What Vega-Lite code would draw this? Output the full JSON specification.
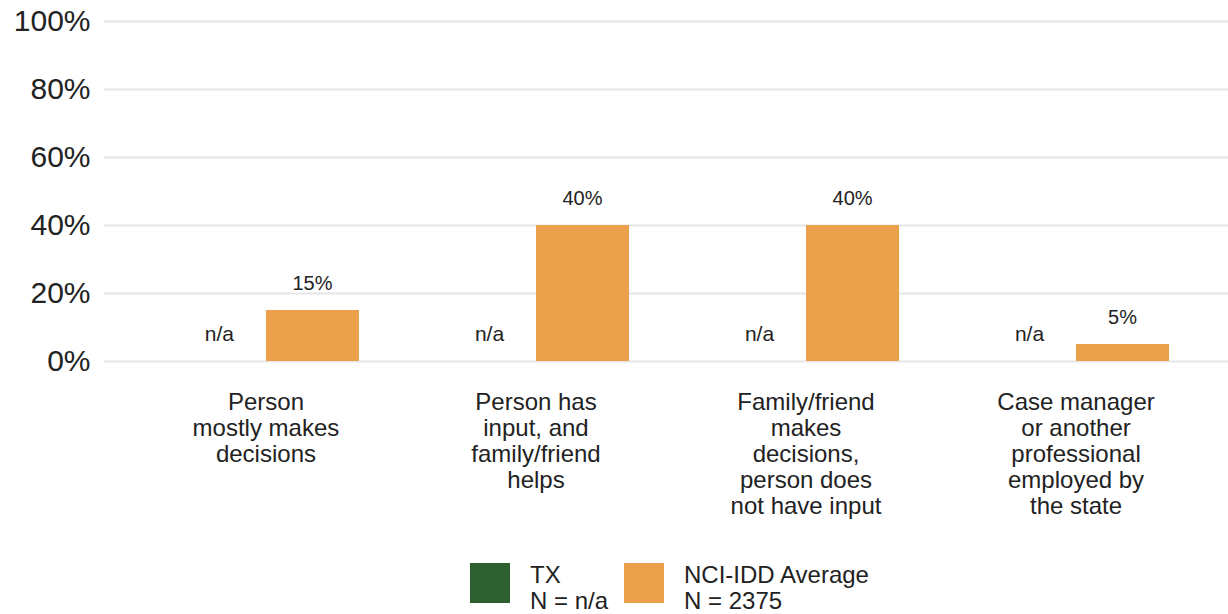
{
  "$schema": "https://vega.github.io/schema/vega-lite/v6.json",
  "width": 1125,
  "height": 340,
  "autosize": "none",
  "padding": {"left": 103, "top": 21, "right": 0, "bottom": 253},
  "background": "white",
  "config": {"font": "Liberation Sans", "view": {"stroke": null}},
  "data": {
    "values": [
      {"category": "Person\nmostly makes\ndecisions", "series": "TX\nN = n/a", "value": null},
      {"category": "Person\nmostly makes\ndecisions", "series": "NCI-IDD Average\nN = 2375", "value": 0.15},
      {"category": "Person has\ninput, and\nfamily/friend\nhelps", "series": "TX\nN = n/a", "value": null},
      {"category": "Person has\ninput, and\nfamily/friend\nhelps", "series": "NCI-IDD Average\nN = 2375", "value": 0.40},
      {"category": "Family/friend\nmakes\ndecisions,\nperson does\nnot have input", "series": "TX\nN = n/a", "value": null},
      {"category": "Family/friend\nmakes\ndecisions,\nperson does\nnot have input", "series": "NCI-IDD Average\nN = 2375", "value": 0.40},
      {"category": "Case manager\nor another\nprofessional\nemployed by\nthe state", "series": "TX\nN = n/a", "value": null},
      {"category": "Case manager\nor another\nprofessional\nemployed by\nthe state", "series": "NCI-IDD Average\nN = 2375", "value": 0.05}
    ]
  },
  "encoding": {
    "x": {
      "field": "category",
      "type": "nominal",
      "sort": null,
      "scale": {"range": [0, 1136], "paddingInner": 0.311, "paddingOuter": 0.259},
      "axis": {
        "title": null,
        "labelExpr": "split(datum.label, '\\n')",
        "labelFontSize": 24,
        "labelLineHeight": 26,
        "labelAngle": 0,
        "labelPadding": 29,
        "labelBaseline": "top",
        "ticks": false,
        "domain": false,
        "labelColor": "#222222",
        "labelLimit": 0
      }
    },
    "xOffset": {
      "field": "series",
      "type": "nominal",
      "scale": {"domain": ["TX\nN = n/a", "NCI-IDD Average\nN = 2375"]}
    }
  },
  "layer": [
    {
      "mark": {"type": "bar"},
      "encoding": {
        "y": {
          "field": "value",
          "type": "quantitative",
          "scale": {"domain": [0, 1], "nice": false},
          "axis": {
            "title": null,
            "format": ".0%",
            "values": [0, 0.2, 0.4, 0.6, 0.8, 1],
            "domain": false,
            "ticks": false,
            "labelFontSize": 30,
            "labelPadding": 13,
            "labelColor": "#222222",
            "gridColor": "#e6e6e6",
            "gridWidth": 2
          }
        },
        "color": {
          "field": "series",
          "type": "nominal",
          "scale": {
            "domain": ["TX\nN = n/a", "NCI-IDD Average\nN = 2375"],
            "range": ["#2e5f2f", "#eba04b"]
          },
          "legend": {
            "title": null,
            "orient": "none",
            "legendX": 367,
            "legendY": 542,
            "direction": "horizontal",
            "padding": 0,
            "symbolType": "square",
            "symbolSize": 1600,
            "symbolStrokeWidth": 0,
            "symbolOpacity": 1,
            "labelFontSize": 24,
            "labelLineHeight": 23,
            "labelBaseline": "alphabetic",
            "labelColor": "#222222",
            "labelExpr": "split(datum.label, '\\n')",
            "labelOffset": 20,
            "columnPadding": 15,
            "labelLimit": 0
          }
        }
      }
    },
    {
      "transform": [{"filter": "datum.value != null"}],
      "mark": {"type": "text", "dy": -16, "fontSize": 20, "color": "#222222", "baseline": "bottom"},
      "encoding": {
        "y": {"field": "value", "type": "quantitative"},
        "text": {"field": "value", "type": "quantitative", "format": ".0%"}
      }
    },
    {
      "transform": [{"filter": "datum.value == null"}],
      "mark": {"type": "text", "dy": -26, "fontSize": 21, "color": "#222222"},
      "encoding": {
        "y": {"datum": 0},
        "text": {"value": "n/a"}
      }
    }
  ]
}
